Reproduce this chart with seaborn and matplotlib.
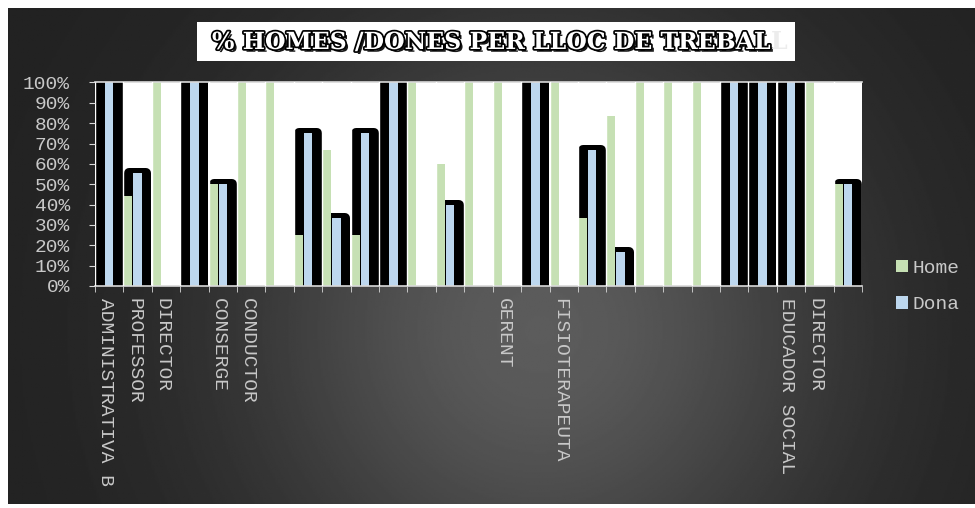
import numpy as np
import pandas as pd
import matplotlib
matplotlib.use("Agg")
import matplotlib.pyplot as plt
import matplotlib.patheffects as pe
import matplotlib.transforms as mtransforms
from matplotlib.patches import Patch, Rectangle
import seaborn as sns

# job positions (blank ones have no label in the original sheet)
llocs = ['ADMINISTRATIVA B', 'PROFESSOR', 'DIRECTOR', '', 'CONSERGE', 'CONDUCTOR',
         '', '', '', '', '', '', '', '', 'GERENT', '', 'FISIOTERAPEUTA',
         '', '', '', '', '', '', '', 'EDUCADOR SOCIAL', 'DIRECTOR', '']
home = [0, 44.4, 100, 0, 50, 100, 100, 25, 66.7, 25, 0, 100, 60, 100, 100, 0, 100,
        33.3, 83.3, 100, 100, 100, 0, 0, 0, 100, 50]
dona = [100, 55.6, 0, 100, 50, 0, 0, 75, 33.3, 75, 100, 0, 40, 0, 0, 100, 0,
        66.7, 16.7, 0, 0, 0, 100, 100, 100, 0, 50]
yticks = list(range(0, 101, 10))

green = '#c6e0b4'
blue = '#bdd7ee'
txt_col = '#c8c8c8'

n = len(llocs)
df = pd.DataFrame({
    'pos': list(range(n)) * 2,
    'sexe': ['Home'] * n + ['Dona'] * n,
    'pct': home + dona,
})

plt.rcParams['font.family'] = ['Liberation Mono', 'DejaVu Sans']

fig = plt.figure(figsize=(9.75, 5.08), dpi=100)
fig.patch.set_facecolor('white')

# dark radial background
bg = fig.add_axes([8/975, 4/508, 967/975, 496/508])
yy, xx = np.mgrid[0:1:300j, 0:1:600j]
r = np.sqrt(((xx - 0.55) * 1.95) ** 2 + (yy - 0.65) ** 2)
shade = 0.13 + 0.23 * np.exp(-(r / 0.6) ** 2)
bg.imshow(shade, cmap='gray', vmin=0, vmax=1, aspect='auto', extent=[0, 1, 0, 1], origin='upper')
bg.set_axis_off()

# plot
ax = fig.add_axes([95/975, (508-286)/508, 767/975, 203.5/508])
ax.set_facecolor('white')
sns.barplot(data=df, x='pos', y='pct', hue='sexe', hue_order=['Home', 'Dona', 'Total'],
            palette={'Home': green, 'Dona': blue, 'Total': 'white'},
            width=1.0, gap=0.1, saturation=1, errorbar=None, legend=False,
            linewidth=0, ax=ax)

# thick black rounded outline behind the "Dona" bars
outline = dict(facecolor='black', edgecolor='black', linewidth=7.2, joinstyle='round')
home_bars, dona_bars = ax.containers[0], ax.containers[1]
for b in home_bars:
    b.set_zorder(1.6)
for b in dona_bars:
    b.set_zorder(1.2)
    if b.get_height() > 0:
        b.set_path_effects([
            pe.PathPatchEffect(offset=(-3.2, 0), **outline),
            pe.PathPatchEffect(offset=(3.2, 0), **outline),
            pe.Normal()])

ax.set_xlim(-0.5, n - 0.5)
ax.set_ylim(0, 100)
ax.set_xlabel('')
ax.set_ylabel('')
ax.set_yticks(yticks, [f'{v}%' for v in yticks])
ax.set_xticks(range(n), llocs, rotation=-90, ha='center', va='top')
ax.set_xticks(np.arange(-0.5, n, 1), minor=True)
ax.tick_params(axis='x', which='major', length=0, pad=9, labelcolor=txt_col, labelsize=14)
ax.tick_params(axis='x', which='minor', length=4, color='#d9d9d9', direction='out')
ax.tick_params(axis='y', length=4, color='#d9d9d9', pad=14, labelcolor=txt_col, labelsize=14)
ax.grid(axis='x', which='minor', color='white', lw=1)
ax.set_axisbelow(False)
for s in ['left', 'right']:
    ax.spines[s].set_visible(False)
for s in ['top', 'bottom']:
    ax.spines[s].set_color('#d9d9d9')
    ax.spines[s].set_linewidth(1.2)

shift = mtransforms.ScaledTranslation(-4/100, 0, fig.dpi_scale_trans)
for lab in ax.get_xticklabels():
    lab.set_transform(lab.get_transform() + shift)

# title box
fig.add_artist(Rectangle((197/975, 1 - 61/508), 598/975, 39/508,
                         transform=fig.transFigure, facecolor='white', edgecolor='none'))
ttl = fig.text(212/975, 1 - 42/508, '% HOMES /DONES PER LLOC DE TREBAL',
               fontfamily='DejaVu Serif', fontweight='bold', fontsize=17,
               color='white', ha='left', va='center', zorder=5,
               path_effects=[pe.SimplePatchShadow(offset=(2, -2), shadow_rgbFace='black', alpha=0.9),
                             pe.Stroke(linewidth=2.5, foreground='black'), pe.Normal()])
fig.canvas.draw()
bb = ttl.get_window_extent()
fig.text(bb.x1 / fig.bbox.width, 1 - 42/508, 'L', fontfamily='DejaVu Serif',
         fontweight='bold', fontsize=17, color='#ececec', ha='left', va='center', zorder=5)

fig.legend(handles=[Patch(facecolor=green, edgecolor='none', label='Home'),
                    Patch(facecolor=blue, edgecolor='none', label='Dona')],
           loc='center left', bbox_to_anchor=(896/975, 1 - 286.5/508), frameon=False,
           fontsize=14, labelcolor=txt_col, handlelength=0.62, handleheight=0.62,
           handletextpad=0.25, labelspacing=1.0, borderpad=0, borderaxespad=0)

fig.savefig('out.png', dpi=100)
